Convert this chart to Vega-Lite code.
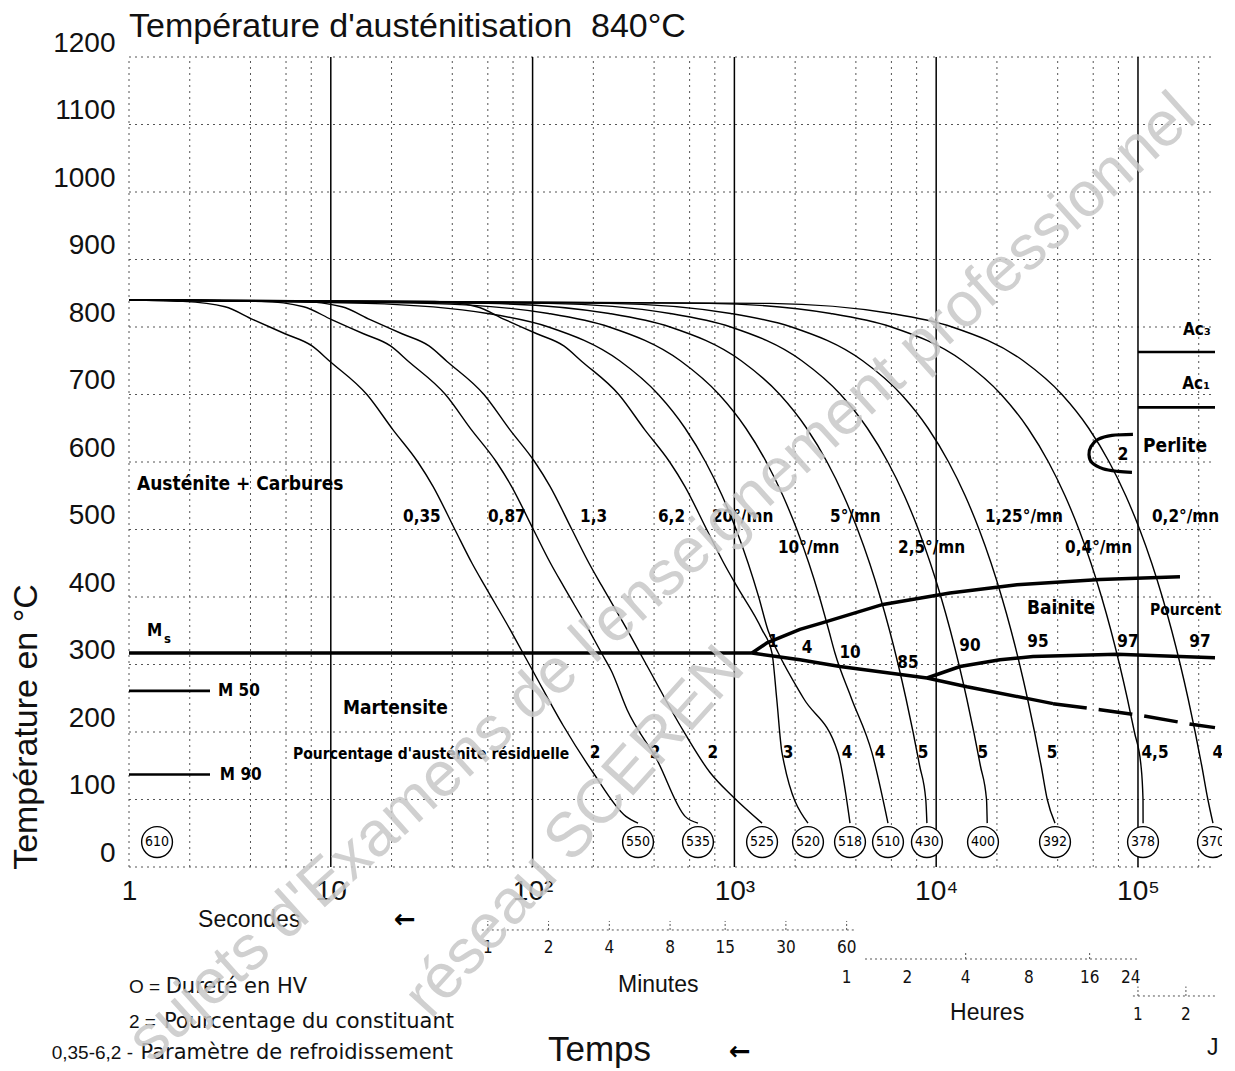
{
"$schema": "https://vega.github.io/schema/vega-lite/v6.json",
"width": 1086, "height": 810,
"autosize": {"type": "none"},
"padding": {"left": 129, "top": 57, "right": 7, "bottom": 204},
"background": "white",
"config": {"view": {"stroke": null}},
"datasets": {
"hgrid": [{"t":1,"t2":240800,"T":0},{"t":1,"t2":240800,"T":100},{"t":1,"t2":240800,"T":200},{"t":1,"t2":240800,"T":300},{"t":1,"t2":240800,"T":400},{"t":1,"t2":240800,"T":500},{"t":1,"t2":240800,"T":600},{"t":1,"t2":240800,"T":700},{"t":1,"t2":240800,"T":800},{"t":1,"t2":240800,"T":900},{"t":1,"t2":240800,"T":1000},{"t":1,"t2":240800,"T":1100},{"t":1,"t2":240800,"T":1200}],
"vmajor": [{"t":10,"T":0,"T2":1200},{"t":100,"T":0,"T2":1200},{"t":1000,"T":0,"T2":1200},{"t":10000,"T":0,"T2":1200},{"t":100000,"T":0,"T2":1200}],
"vminor": [{"t":1,"T":0,"T2":1200},{"t":2,"T":0,"T2":1200},{"t":4,"T":0,"T2":1200},{"t":6,"T":0,"T2":1200},{"t":8,"T":0,"T2":1200},{"t":20,"T":0,"T2":1200},{"t":40,"T":0,"T2":1200},{"t":60,"T":0,"T2":1200},{"t":80,"T":0,"T2":1200},{"t":200,"T":0,"T2":1200},{"t":400,"T":0,"T2":1200},{"t":600,"T":0,"T2":1200},{"t":800,"T":0,"T2":1200},{"t":2000,"T":0,"T2":1200},{"t":4000,"T":0,"T2":1200},{"t":6000,"T":0,"T2":1200},{"t":8000,"T":0,"T2":1200},{"t":20000,"T":0,"T2":1200},{"t":40000,"T":0,"T2":1200},{"t":60000,"T":0,"T2":1200},{"t":80000,"T":0,"T2":1200},{"t":200000,"T":0,"T2":1200}],
"curves": [
{"c":"0,35","t":1,"T":840},{"c":"0,35","t":1.85,"T":838},{"c":"0,35","t":2.99,"T":830},{"c":"0,35","t":4.12,"T":811},{"c":"0,35","t":5.93,"T":790},{"c":"0,35","t":8.07,"T":772},{"c":"0,35","t":9.91,"T":749},{"c":"0,35","t":15.1,"T":700},{"c":"0,35","t":20.3,"T":648},{"c":"0,35","t":27,"T":600},{"c":"0,35","t":32.1,"T":564},{"c":"0,35","t":41.2,"T":500},{"c":"0,35","t":50.1,"T":450},{"c":"0,35","t":58.1,"T":416},{"c":"0,35","t":77.3,"T":352},{"c":"0,35","t":89.6,"T":317},{"c":"0,35","t":100.5,"T":290},{"c":"0,35","t":141.5,"T":210},{"c":"0,35","t":199.3,"T":140},{"c":"0,35","t":290,"T":75},{"c":"0,35","t":333,"T":65},
{"c":"0,87","t":1,"T":840},{"c":"0,87","t":4.53,"T":838},{"c":"0,87","t":7.33,"T":830},{"c":"0,87","t":10.09,"T":811},{"c":"0,87","t":14.53,"T":790},{"c":"0,87","t":19.77,"T":772},{"c":"0,87","t":24.28,"T":749},{"c":"0,87","t":37,"T":700},{"c":"0,87","t":49.7,"T":648},{"c":"0,87","t":66.2,"T":600},{"c":"0,87","t":78.6,"T":564},{"c":"0,87","t":100.9,"T":500},{"c":"0,87","t":122.7,"T":450},{"c":"0,87","t":142.3,"T":416},{"c":"0,87","t":189.4,"T":352},{"c":"0,87","t":219.5,"T":317},{"c":"0,87","t":246.2,"T":290},{"c":"0,87","t":294,"T":233},{"c":"0,87","t":413,"T":159},{"c":"0,87","t":570,"T":75},{"c":"0,87","t":660,"T":65},
{"c":"1,3","t":1,"T":840},{"c":"1,3","t":7.03,"T":838},{"c":"1,3","t":11.36,"T":830},{"c":"1,3","t":15.66,"T":811},{"c":"1,3","t":22.53,"T":790},{"c":"1,3","t":30.67,"T":772},{"c":"1,3","t":37.66,"T":749},{"c":"1,3","t":57.4,"T":700},{"c":"1,3","t":77.1,"T":648},{"c":"1,3","t":102.6,"T":600},{"c":"1,3","t":122,"T":564},{"c":"1,3","t":156.6,"T":500},{"c":"1,3","t":190.4,"T":450},{"c":"1,3","t":220.8,"T":416},{"c":"1,3","t":293.7,"T":352},{"c":"1,3","t":340.5,"T":317},{"c":"1,3","t":381.9,"T":290},{"c":"1,3","t":537.7,"T":210},{"c":"1,3","t":757.3,"T":140},{"c":"1,3","t":984,"T":104},{"c":"1,3","t":1371,"T":65},
{"c":"6,2","t":1,"T":840},{"c":"6,2","t":32.7,"T":838},{"c":"6,2","t":52.9,"T":830},{"c":"6,2","t":72.9,"T":811},{"c":"6,2","t":105,"T":790},{"c":"6,2","t":142.8,"T":772},{"c":"6,2","t":175.4,"T":749},{"c":"6,2","t":267.3,"T":700},{"c":"6,2","t":359.3,"T":648},{"c":"6,2","t":477.9,"T":600},{"c":"6,2","t":568.2,"T":564},{"c":"6,2","t":729.2,"T":500},{"c":"6,2","t":886.8,"T":450},{"c":"6,2","t":1028,"T":416},{"c":"6,2","t":1368,"T":352},{"c":"6,2","t":1536,"T":317},{"c":"6,2","t":1620,"T":250},{"c":"6,2","t":1722,"T":169},{"c":"6,2","t":2316,"T":65},
{"c":"20","t":1,"T":840},{"c":"20","t":15,"T":835},{"c":"20","t":60,"T":820},{"c":"20","t":120,"T":800},{"c":"20","t":270,"T":750},{"c":"20","t":420,"T":700},{"c":"20","t":570,"T":650},{"c":"20","t":720,"T":600},{"c":"20","t":870,"T":550},{"c":"20","t":1020,"T":500},{"c":"20","t":1170,"T":450},{"c":"20","t":1320,"T":400},{"c":"20","t":1470,"T":350},{"c":"20","t":1650,"T":317},{"c":"20","t":2200,"T":250},{"c":"20","t":3262,"T":169},{"c":"20","t":3741,"T":65},
{"c":"10","t":1,"T":840},{"c":"10","t":30,"T":835},{"c":"10","t":120,"T":820},{"c":"10","t":240,"T":800},{"c":"10","t":540,"T":750},{"c":"10","t":840,"T":700},{"c":"10","t":1140,"T":650},{"c":"10","t":1440,"T":600},{"c":"10","t":1740,"T":550},{"c":"10","t":2040,"T":500},{"c":"10","t":2340,"T":450},{"c":"10","t":2640,"T":400},{"c":"10","t":2940,"T":350},{"c":"10","t":3150,"T":317},{"c":"10","t":3800,"T":250},{"c":"10","t":4808,"T":169},{"c":"10","t":5770,"T":65},
{"c":"5","t":1,"T":840},{"c":"5","t":60,"T":835},{"c":"5","t":240,"T":820},{"c":"5","t":480,"T":800},{"c":"5","t":1080,"T":750},{"c":"5","t":1680,"T":700},{"c":"5","t":2280,"T":650},{"c":"5","t":2880,"T":600},{"c":"5","t":3480,"T":550},{"c":"5","t":4080,"T":500},{"c":"5","t":4680,"T":450},{"c":"5","t":5280,"T":400},{"c":"5","t":5880,"T":350},{"c":"5","t":6480,"T":300},{"c":"5","t":7080,"T":250},{"c":"5","t":7680,"T":200},{"c":"5","t":8280,"T":150},{"c":"5","t":8880,"T":100},{"c":"5","t":8996,"T":65},
{"c":"2,5","t":1,"T":840},{"c":"2,5","t":120,"T":835},{"c":"2,5","t":480,"T":820},{"c":"2,5","t":960,"T":800},{"c":"2,5","t":2160,"T":750},{"c":"2,5","t":3360,"T":700},{"c":"2,5","t":4560,"T":650},{"c":"2,5","t":5760,"T":600},{"c":"2,5","t":6960,"T":550},{"c":"2,5","t":8160,"T":500},{"c":"2,5","t":9360,"T":450},{"c":"2,5","t":10560,"T":400},{"c":"2,5","t":11760,"T":350},{"c":"2,5","t":12960,"T":300},{"c":"2,5","t":14160,"T":250},{"c":"2,5","t":15360,"T":200},{"c":"2,5","t":16560,"T":150},{"c":"2,5","t":17760,"T":100},{"c":"2,5","t":17900,"T":65},
{"c":"1,25","t":1,"T":840},{"c":"1,25","t":240,"T":835},{"c":"1,25","t":960,"T":820},{"c":"1,25","t":1920,"T":800},{"c":"1,25","t":4320,"T":750},{"c":"1,25","t":6720,"T":700},{"c":"1,25","t":9120,"T":650},{"c":"1,25","t":11520,"T":600},{"c":"1,25","t":13920,"T":550},{"c":"1,25","t":16320,"T":500},{"c":"1,25","t":18720,"T":450},{"c":"1,25","t":21120,"T":400},{"c":"1,25","t":23520,"T":350},{"c":"1,25","t":25920,"T":300},{"c":"1,25","t":28320,"T":250},{"c":"1,25","t":30720,"T":200},{"c":"1,25","t":33120,"T":150},{"c":"1,25","t":35520,"T":100},{"c":"1,25","t":38800,"T":65},
{"c":"0,4","t":1,"T":840},{"c":"0,4","t":750,"T":835},{"c":"0,4","t":3000,"T":820},{"c":"0,4","t":6000,"T":800},{"c":"0,4","t":13500,"T":750},{"c":"0,4","t":21000,"T":700},{"c":"0,4","t":28500,"T":650},{"c":"0,4","t":36000,"T":600},{"c":"0,4","t":43500,"T":550},{"c":"0,4","t":51000,"T":500},{"c":"0,4","t":58500,"T":450},{"c":"0,4","t":66000,"T":400},{"c":"0,4","t":73500,"T":350},{"c":"0,4","t":81000,"T":300},{"c":"0,4","t":88500,"T":250},{"c":"0,4","t":96000,"T":200},{"c":"0,4","t":103500,"T":150},{"c":"0,4","t":105900,"T":100},{"c":"0,4","t":106000,"T":65},
{"c":"0,2","t":1,"T":840},{"c":"0,2","t":1500,"T":835},{"c":"0,2","t":6000,"T":820},{"c":"0,2","t":12000,"T":800},{"c":"0,2","t":27000,"T":750},{"c":"0,2","t":42000,"T":700},{"c":"0,2","t":57000,"T":650},{"c":"0,2","t":72000,"T":600},{"c":"0,2","t":87000,"T":550},{"c":"0,2","t":102000,"T":500},{"c":"0,2","t":117000,"T":450},{"c":"0,2","t":132000,"T":400},{"c":"0,2","t":147000,"T":350},{"c":"0,2","t":162000,"T":300},{"c":"0,2","t":177000,"T":250},{"c":"0,2","t":192000,"T":200},{"c":"0,2","t":207000,"T":150},{"c":"0,2","t":222000,"T":100},{"c":"0,2","t":235300,"T":65}
],
"thick": [
{"seg":"Ms","i":0,"t":1,"T":317},{"seg":"Ms","i":1,"t":1222,"T":317},
{"seg":"Bs","i":0,"t":1222,"T":317},{"seg":"Bs","i":1,"t":1451,"T":332},{"seg":"Bs","i":2,"t":2113,"T":352},{"seg":"Bs","i":3,"t":2748,"T":362},{"seg":"Bs","i":4,"t":5451,"T":389},{"seg":"Bs","i":5,"t":11700,"T":406},{"seg":"Bs","i":6,"t":25140,"T":418},{"seg":"Bs","i":7,"t":64860,"T":426},{"seg":"Bs","i":8,"t":161500,"T":430},
{"seg":"Mlow","i":0,"t":1222,"T":317},{"seg":"Mlow","i":1,"t":2113,"T":307},{"seg":"Mlow","i":2,"t":3337,"T":297},{"seg":"Mlow","i":3,"t":9000,"T":280},{"seg":"Mlow","i":4,"t":14210,"T":267},{"seg":"Mlow","i":5,"t":30180,"T":248},{"seg":"Mlow","i":6,"t":37930,"T":242},
{"seg":"Bf","i":0,"t":9000,"T":280},{"seg":"Bf","i":1,"t":13120,"T":297},{"seg":"Bf","i":2,"t":20710,"T":307},{"seg":"Bf","i":3,"t":30180,"T":312},{"seg":"Bf","i":4,"t":78700,"T":315},{"seg":"Bf","i":5,"t":240800,"T":310}
],
"perlite": [{"i":0,"t":94410,"T":641},{"i":1,"t":74300,"T":639.5},{"i":2,"t":63350,"T":633.5},{"i":3,"t":58480,"T":623},{"i":4,"t":57170,"T":611},{"i":5,"t":59150,"T":599},{"i":6,"t":67090,"T":590},{"i":7,"t":79620,"T":586},{"i":8,"t":93360,"T":584.5}],
"medium": [{"seg":"M50","t":1,"T":261},{"seg":"M50","t":2.52,"T":261},{"seg":"M90","t":1,"T":137},{"seg":"M90","t":2.52,"T":137},{"seg":"Ac3","t":100000,"T":763},{"seg":"Ac3","t":240800,"T":763},{"seg":"Ac1","t":100000,"T":681},{"seg":"Ac1","t":240800,"T":681}],
"dashed": [{"t":37930,"T":242},{"t":64860,"T":233},{"t":105900,"T":224},{"t":187300,"T":211},{"t":240800,"T":206.5}],
"scalelines": [{"t":56,"t2":3960,"T":-93.3},{"t":4440,"t2":98900,"T":-136.3},{"t":94400,"t2":240800,"T":-191.1}],
"scaleticks": [{"t":60,"T":-93.3,"T2":-80},{"t":120,"T":-93.3,"T2":-80},{"t":240,"T":-93.3,"T2":-80},{"t":480,"T":-93.3,"T2":-80},{"t":900,"T":-93.3,"T2":-80},{"t":1800,"T":-93.3,"T2":-80},{"t":3600,"T":-93.3,"T2":-80},{"t":14000,"T":-136.3,"T2":-125},{"t":57600,"T":-136.3,"T2":-125},{"t":100000,"T":-191.1,"T2":-177},{"t":172800,"T":-191.1,"T2":-177}],
"scalenums": [{"t":60,"T":-120,"text":"1"},{"t":120,"T":-120,"text":"2"},{"t":240,"T":-120,"text":"4"},{"t":480,"T":-120,"text":"8"},{"t":900,"T":-120,"text":"15"},{"t":1800,"T":-120,"text":"30"},{"t":3600,"T":-120,"text":"60"},
{"t":3600,"T":-164.4,"text":"1"},{"t":7200,"T":-164.4,"text":"2"},{"t":14000,"T":-164.4,"text":"4"},{"t":28800,"T":-164.4,"text":"8"},{"t":57600,"T":-164.4,"text":"16"},{"t":92000,"T":-164.4,"text":"24"},
{"t":100000,"T":-219.3,"text":"1"},{"t":172800,"T":-219.3,"text":"2"}],
"circles": [{"t":1.377,"T":37,"hv":"610"},{"t":333,"T":37,"hv":"550"},{"t":660,"T":37,"hv":"535"},{"t":1371,"T":37,"hv":"525"},{"t":2316,"T":37,"hv":"520"},{"t":3741,"T":37,"hv":"518"},{"t":5770,"T":37,"hv":"510"},{"t":8996,"T":37,"hv":"430"},{"t":17060,"T":37,"hv":"400"},{"t":38800,"T":37,"hv":"392"},{"t":105900,"T":37,"hv":"378"},{"t":235300,"T":37,"hv":"370"}],
"curvelabels": [{"t":22.8,"T":519,"text":"0,35"},{"t":60.1,"T":519,"text":"0,87"},{"t":171.8,"T":519,"text":"1,3"},{"t":418,"T":519,"text":"6,2"},{"t":774,"T":519,"text":"20°/mn"},{"t":2978,"T":519,"text":"5°/mn"},{"t":17460,"T":519,"text":"1,25°/mn"},{"t":117300,"T":519,"text":"0,2°/mn"},{"t":1644,"T":473,"text":"10°/mn"},{"t":6470,"T":473,"text":"2,5°/mn"},{"t":43500,"T":473,"text":"0,4°/mn"}],
"regionlabels": [{"t":1.095,"T":567,"text":"Austénite + Carbures"},{"t":11.5,"T":236,"text":"Martensite"},{"t":28180,"T":383,"text":"Bainite"},{"t":105900,"T":623,"text":"Perlite"}],
"smalllabels": [{"t":2.76,"T":261,"text":"M 50"},{"t":2.82,"T":136.5,"text":"M 90"},{"t":1.228,"T":349,"text":"M"},{"t":167100,"T":795,"text":"Ac₃"},{"t":165700,"T":716,"text":"Ac₁"}],
"sub": [{"t":1.49,"T":338,"text":"s"}],
"smalltext": [{"t":6.5,"T":167,"text":"Pourcentage d'austénite résiduelle"},{"t":114700,"T":381,"text":"Pourcentage"}],
"nums": [{"t":203.8,"T":169,"text":"2"},{"t":404,"T":169,"text":"2"},{"t":783,"T":169,"text":"2"},{"t":1845,"T":169,"text":"3"},{"t":3613,"T":169,"text":"4"},{"t":5271,"T":169,"text":"4"},{"t":8603,"T":169,"text":"5"},{"t":17050,"T":169,"text":"5"},{"t":37500,"T":169,"text":"5"},{"t":121400,"T":169,"text":"4,5"},{"t":249000,"T":169,"text":"4"},
{"t":1553,"T":333,"text":"1"},{"t":2290,"T":324,"text":"4"},{"t":3741,"T":317,"text":"10"},{"t":7250,"T":302,"text":"85"},{"t":14690,"T":327,"text":"90"},{"t":31940,"T":334,"text":"95"},{"t":89200,"T":334,"text":"97"},{"t":202900,"T":334,"text":"97"},{"t":84300,"T":611,"text":"2"}],
"title": [{"t":1,"T":1229.6,"text":"Température d'austénitisation\u00a0 840°C"}],
"ytitle": [{"t":0.35,"T":207.4,"text":"Température en °C"}],
"words": [{"t":2.2,"T":-78.5,"text":"Secondes"},{"t":265,"T":-174.8,"text":"Minutes"},{"t":11710,"T":-216.3,"text":"Heures"},{"t":219800,"T":-268.1,"text":"J"}],
"arrows": [{"t":23.3,"T":-78.5,"text":"←"},{"t":1066,"T":-274.1,"text":"←"}],
"temps": [{"t":119.2,"T":-271.1,"text":"Temps"}],
"legkeys": [{"t":1.0,"T":-177.8,"text":"O ="},{"t":1.0,"T":-229.6,"text":"2 ="}],
"legkey3": [{"t":1.047,"T":-275.6,"text":"0,35-6,2 -"}],
"legdesc": [{"t":1.52,"T":-177.8,"text":"Dureté en HV"},{"t":1.49,"T":-229.6,"text":"Pourcentage du constituant"},{"t":1.14,"T":-275.6,"text":"Paramètre de refroidissement"}],
"wm1": [{"t":507.7,"T":407.4,"text":"sujets d'Examens de l'enseignement professionnel"}],
"wm2": [{"t":190,"T":33,"text":"réseau SCEREN"}]
},
"encoding": {
 "x": {"field":"t","type":"quantitative","scale":{"type":"log","domain":[1,240800]},
  "axis":{"values":[1,10,100,1000,10000,100000],"labelExpr":"datum.value < 5 ? '1' : datum.value < 50 ? '10' : datum.value < 500 ? '10²' : datum.value < 5000 ? '10³' : datum.value < 50000 ? '10⁴' : '10⁵'","labelFont":"Liberation Sans","labelFontSize":28,"labelColor":"#111","labelPadding":10,"ticks":false,"domain":false,"grid":false,"title":null,"labelFlush":false,"labelOverlap":false}},
 "y": {"field":"T","type":"quantitative","scale":{"domain":[0,1200],"nice":false,"zero":false},
  "axis":{"values":[0,100,200,300,400,500,600,700,800,900,1000,1100,1200],"format":"d","labelFont":"Liberation Sans","labelFontSize":28,"labelColor":"#111","labelPadding":14,"labelOffset":-14,"ticks":false,"domain":false,"grid":false,"title":null,"labelFlush":false,"labelOverlap":false}}
},
"layer": [
{"data":{"name":"hgrid"},"mark":{"type":"rule","strokeDash":[2,4],"color":"#555","strokeWidth":1},"encoding":{"x2":{"field":"t2"}}},
{"data":{"name":"vmajor"},"mark":{"type":"rule","color":"#000","strokeWidth":1.5},"encoding":{"y2":{"field":"T2"}}},
{"data":{"name":"vminor"},"mark":{"type":"rule","strokeDash":[2,4],"color":"#555","strokeWidth":1},"encoding":{"y2":{"field":"T2"}}},
{"data":{"name":"curves"},"mark":{"type":"line","color":"#000","strokeWidth":1.4,"interpolate":"monotone"},"encoding":{"detail":{"field":"c"}}},
{"data":{"name":"thick"},"mark":{"type":"line","color":"#000","strokeWidth":3.5},"encoding":{"detail":{"field":"seg"},"order":{"field":"i"}}},
{"data":{"name":"perlite"},"mark":{"type":"line","color":"#000","strokeWidth":3.2,"interpolate":"cardinal"},"encoding":{"order":{"field":"i"}}},
{"data":{"name":"medium"},"mark":{"type":"line","color":"#000","strokeWidth":2.6},"encoding":{"detail":{"field":"seg"}}},
{"data":{"name":"dashed"},"mark":{"type":"line","color":"#000","strokeWidth":3.5,"strokeDash":[34,12]},"encoding":{}},
{"data":{"name":"scalelines"},"mark":{"type":"rule","color":"#555","strokeWidth":1,"strokeDash":[2,3]},"encoding":{"x2":{"field":"t2"}}},
{"data":{"name":"scaleticks"},"mark":{"type":"rule","color":"#555","strokeWidth":1,"strokeDash":[2,2]},"encoding":{"y2":{"field":"T2"}}},
{"data":{"name":"circles"},"mark":{"type":"point","shape":"circle","size":950,"filled":true,"fill":"white","stroke":"#000","strokeWidth":1.4,"opacity":1}},
{"data":{"name":"circles"},"mark":{"type":"text","font":"DejaVu Sans Condensed, sans-serif","fontSize":14,"align":"center","baseline":"middle","color":"#000"},"encoding":{"text":{"field":"hv"}}},
{"data":{"name":"curvelabels"},"mark":{"type":"text","font":"DejaVu Sans Condensed, sans-serif","fontWeight":"bold","fontSize":17,"align":"left","baseline":"middle","color":"#000"},"encoding":{"text":{"field":"text"}}},
{"data":{"name":"regionlabels"},"mark":{"type":"text","font":"DejaVu Sans Condensed, sans-serif","fontWeight":"bold","fontSize":19,"align":"left","baseline":"middle","color":"#000"},"encoding":{"text":{"field":"text"}}},
{"data":{"name":"smalllabels"},"mark":{"type":"text","font":"DejaVu Sans Condensed, sans-serif","fontWeight":"bold","fontSize":17,"align":"left","baseline":"middle","color":"#000"},"encoding":{"text":{"field":"text"}}},
{"data":{"name":"sub"},"mark":{"type":"text","font":"DejaVu Sans Condensed, sans-serif","fontWeight":"bold","fontSize":13,"align":"left","baseline":"middle","color":"#000"},"encoding":{"text":{"field":"text"}}},
{"data":{"name":"smalltext"},"mark":{"type":"text","font":"DejaVu Sans Condensed, sans-serif","fontWeight":"bold","fontSize":15.5,"align":"left","baseline":"middle","color":"#000"},"encoding":{"text":{"field":"text"}}},
{"data":{"name":"nums"},"mark":{"type":"text","font":"DejaVu Sans Condensed, sans-serif","fontWeight":"bold","fontSize":17,"align":"center","baseline":"middle","color":"#000"},"encoding":{"text":{"field":"text"}}},
{"data":{"name":"scalenums"},"mark":{"type":"text","font":"DejaVu Sans Condensed, sans-serif","fontSize":17,"align":"center","baseline":"middle","color":"#111"},"encoding":{"text":{"field":"text"}}},
{"data":{"name":"title"},"mark":{"type":"text","font":"Liberation Sans","fontSize":34,"align":"left","baseline":"alphabetic","color":"#111"},"encoding":{"text":{"field":"text"}}},
{"data":{"name":"ytitle"},"mark":{"type":"text","font":"Liberation Sans","fontSize":34,"align":"center","baseline":"alphabetic","angle":270,"color":"#111"},"encoding":{"text":{"field":"text"}}},
{"data":{"name":"words"},"mark":{"type":"text","font":"Liberation Sans","fontSize":23,"align":"left","baseline":"middle","color":"#111"},"encoding":{"text":{"field":"text"}}},
{"data":{"name":"arrows"},"mark":{"type":"text","font":"DejaVu Sans","fontWeight":"bold","fontSize":26,"align":"center","baseline":"middle","color":"#000"},"encoding":{"text":{"field":"text"}}},
{"data":{"name":"temps"},"mark":{"type":"text","font":"Liberation Sans","fontSize":35,"align":"left","baseline":"middle","color":"#111"},"encoding":{"text":{"field":"text"}}},
{"data":{"name":"legkeys"},"mark":{"type":"text","font":"Liberation Sans","fontSize":19,"align":"left","baseline":"middle","color":"#111"},"encoding":{"text":{"field":"text"}}},
{"data":{"name":"legkey3"},"mark":{"type":"text","font":"Liberation Sans","fontSize":19,"align":"right","baseline":"middle","color":"#111"},"encoding":{"text":{"field":"text"}}},
{"data":{"name":"legdesc"},"mark":{"type":"text","font":"DejaVu Sans","fontSize":21,"align":"left","baseline":"middle","color":"#111"},"encoding":{"text":{"field":"text"}}},
{"data":{"name":"wm1"},"mark":{"type":"text","font":"Liberation Sans","fontSize":63,"align":"center","baseline":"alphabetic","angle":-42,"color":"#c8c8c8","opacity":0.85},"encoding":{"text":{"field":"text"}}},
{"data":{"name":"wm2"},"mark":{"type":"text","font":"Liberation Sans","fontSize":63,"align":"center","baseline":"alphabetic","angle":-48,"color":"#c8c8c8","opacity":0.85},"encoding":{"text":{"field":"text"}}}
]
}
